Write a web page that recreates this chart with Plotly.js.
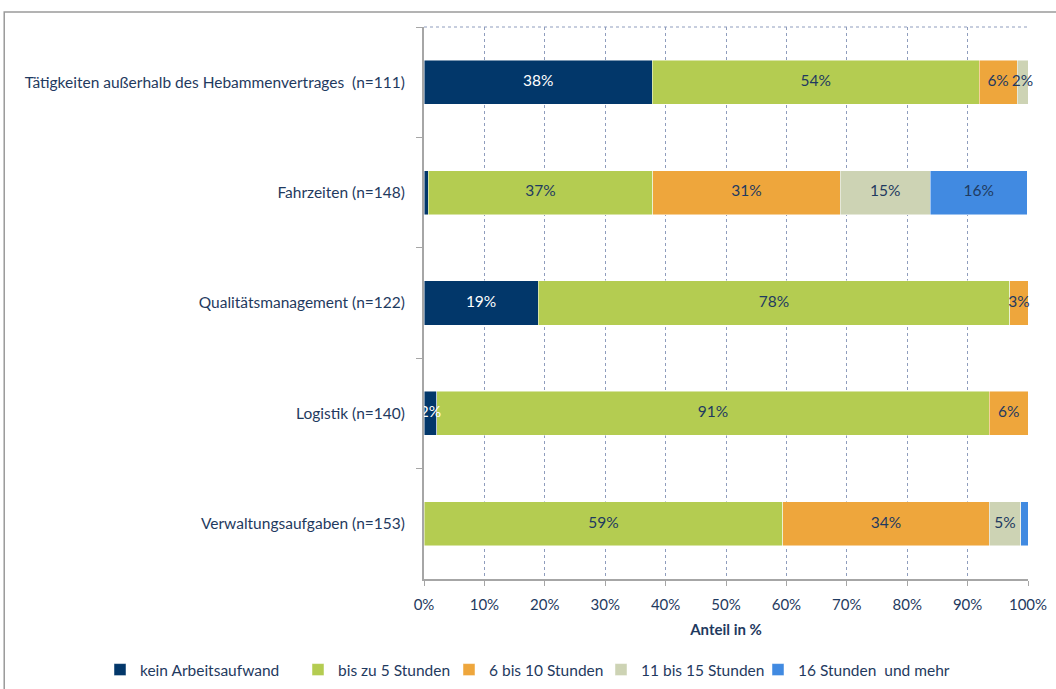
<!DOCTYPE html>
<html>
<head>
<meta charset="utf-8">
<script src="https://cdn.plot.ly/plotly-3.0.1.min.js"></script>
<style>
  html, body { margin: 0; padding: 0; background: #fff; }
  #chart { width: 1056px; height: 689px; }
</style>
</head>
<body>
<div id="chart"></div>
<script>
// categories, top to bottom
const categories = [
  "Tätigkeiten außerhalb des Hebammenvertrages\u00a0 (n=111)",
  "Fahrzeiten (n=148)",
  "Qualitätsmanagement (n=122)",
  "Logistik (n=140)",
  "Verwaltungsaufgaben (n=153)",
];

const seriesNames = [
  "kein Arbeitsaufwand",
  "bis zu 5 Stunden",
  "6 bis 10 Stunden",
  "11 bis 15 Stunden",
  "16 Stunden\u00a0 und mehr",
];

// shares in %, per series (one value per category)
const keinAufwand = [37.8, 0.7, 18.9, 2.1, 0];
const bis5 = [54.1, 37.2, 78.1, 91.5, 59.4];
const bis10 = [6.3, 31.0, 3.0, 6.4, 34.2];
const bis15 = [1.8, 14.9, 0, 0, 5.2];
const ab16 = [0, 16.1, 0, 0, 1.2];

// labels as printed in the bars
const keinLabels = ["38%", "", "19%", "2%", ""];
const bis5Labels = ["54%", "37%", "78%", "91%", "59%"];
const bis10Labels = ["6%", "31%", "3%", "6%", "34%"];
const bis15Labels = ["2%", "15%", "", "", "5%"];
const ab16Labels = ["", "16%", "", "", ""];

const colors = ["#02376a", "#b4cc51", "#eea63c", "#cdd3b4", "#418ae1"];
const NAVY = "#1f3a60";
const FONT = "Lato, 'Open Sans', sans-serif";

const values = [keinAufwand, bis5, bis10, bis15, ab16];
const labels = [keinLabels, bis5Labels, bis10Labels, bis15Labels, ab16Labels];

// left edge of each legend entry (px in the page)
const legendLeft = [100, 298, 449, 601, 758];

const barTraces = values.map((vals, i) => ({
  type: "bar",
  orientation: "h",
  name: seriesNames[i],
  legend: i === 0 ? "legend" : "legend" + (i + 1),
  y: categories,
  x: vals,
  hoverinfo: "name+x",
  marker: { color: colors[i], line: { color: "rgba(255,255,255,0.6)", width: 0.8 } },
}));

// labels go on top of all bars, centred in their segment
const offsets = categories.map(() => 0);
const labelTraces = values.map((vals, i) => {
  const mids = vals.map((v, j) => {
    const m = offsets[j] + v / 2;
    offsets[j] += v;
    return m;
  });
  return {
    type: "scatter",
    mode: "text",
    x: mids,
    y: categories,
    text: labels[i],
    textposition: "middle center",
    textfont: { family: FONT, size: 15.5, color: i === 0 ? "#ffffff" : NAVY },
    cliponaxis: false,
    showlegend: false,
    hoverinfo: "skip",
  };
});

const layout = {
  width: 1056,
  height: 689,
  barmode: "stack",
  bargap: 0.6,
  margin: { l: 424, r: 28, t: 27, b: 110, autoexpand: false },
  paper_bgcolor: "#ffffff",
  plot_bgcolor: "#ffffff",
  font: { family: FONT, size: 15.5, color: NAVY },
  xaxis: {
    range: [0, 100],
    tickvals: [0, 10, 20, 30, 40, 50, 60, 70, 80, 90, 100],
    ticktext: ["0%", "10%", "20%", "30%", "40%", "50%", "60%", "70%", "80%", "90%", "100%"],
    showgrid: true,
    gridcolor: "#8f9dbd",
    griddash: "dot",
    gridwidth: 1,
    zeroline: false,
    showline: true,
    linecolor: "#a6a6a6",
    linewidth: 2,
    ticks: "outside",
    ticklen: 5,
    tickcolor: "#a6a6a6",
    ticklabelstandoff: 6,
    tickfont: { family: FONT, size: 15, color: NAVY },
    title: { text: "<b>Anteil in %</b>", font: { family: FONT, size: 15, color: NAVY }, standoff: 12 },
    fixedrange: true,
  },
  yaxis: {
    autorange: "reversed",
    showgrid: false,
    showline: true,
    linecolor: "#a6a6a6",
    linewidth: 2,
    ticks: "outside",
    tickson: "boundaries",
    ticklen: 6,
    tickcolor: "#a6a6a6",
    ticklabelstandoff: 14,
    tickfont: { family: FONT, size: 15.5, color: NAVY },
    fixedrange: true,
  },
  shapes: [
    // dotted top line of the plot area
    { type: "line", xref: "paper", yref: "paper", x0: 0, x1: 1, y0: 1, y1: 1,
      line: { color: "#8f9dbd", width: 1, dash: "dot" } },
    // outer chart frame
    { type: "rect", xref: "paper", yref: "paper", x0: -0.695, x1: 1.2, y0: -0.3, y1: 1.027,
      line: { color: "#9a9a9a", width: 1.5 }, layer: "below" },
  ],
  showlegend: true,
};

legendLeft.forEach((px, i) => {
  layout[i === 0 ? "legend" : "legend" + (i + 1)] = {
    xref: "container",
    yref: "container",
    x: px / 1056,
    xanchor: "left",
    y: 1 - 653 / 689,
    yanchor: "top",
    orientation: "h",
    bgcolor: "rgba(0,0,0,0)",
    font: { family: FONT, size: 15.5, color: NAVY },
  };
});

Plotly.newPlot("chart", barTraces.concat(labelTraces), layout, { displayModeBar: false, staticPlot: true });
</script>
</body>
</html>
